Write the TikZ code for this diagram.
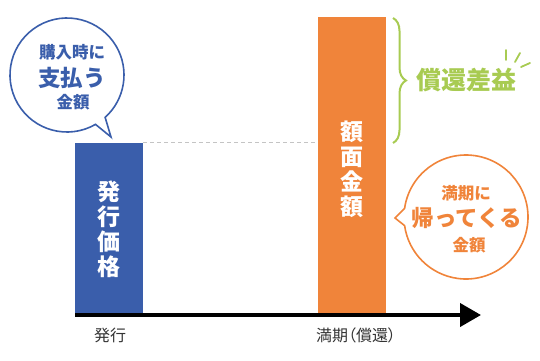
\documentclass[tikz,border=0pt]{standalone}
\usepackage{fontspec}
\newfontfamily\jp{Noto Sans CJK JP}
\newfontfamily\jpp[RawFeature=+palt]{Noto Sans CJK JP}
\usetikzlibrary{arrows.meta,decorations.pathreplacing,calc}
\definecolor{blueC}{HTML}{3A5EAB}
\definecolor{orangeC}{HTML}{F0843A}
\definecolor{greenC}{HTML}{A8CB52}
\definecolor{dashC}{HTML}{C4C4C4}
\definecolor{txtC}{HTML}{333333}
\begin{document}
\begin{tikzpicture}[x=1pt,y=-1pt,
  bar/.style={draw=none,minimum width=68pt,inner sep=0pt,anchor=south west},
  bartext/.style={text=white,font=\jp\bfseries\fontsize{23}{25}\selectfont,align=center,inner sep=0pt},
  axlabel/.style={text=txtC,font=\jpp\fontsize{16}{18}\selectfont,inner sep=0pt},
  bubline/.style={line width=1.6pt,fill=white},
  small/.style={font=\jp\bfseries\fontsize{16.5}{18}\selectfont,inner sep=0pt},
  big/.style={font=\jp\bfseries\fontsize{22.5}{24}\selectfont,inner sep=0pt}]
\useasboundingbox (0,0) rectangle (540,360);
% bars
\node[bar,fill=blueC,minimum height=170pt] (bluebar) at (75,313) {};
\node[bar,fill=orangeC,minimum height=296pt] (orangebar) at (318,313) {};
\node[bartext] (bluetext) at (109,229) {発\\行\\価\\格};
\node[bartext] (orangetext) at (352,169) {額\\面\\金\\額};
% dashed level line
\draw[dashC,line width=1.2pt,dash pattern=on 4pt off 3pt] (bluebar.north east) -- (orangebar.west |- bluebar.north);
% axis
\coordinate (axS) at (75,315);
\coordinate (axE) at (481,315);
\draw[black,line width=4pt,-{Triangle[length=21pt,width=23pt]}] (axS) -- (axE);
\node[axlabel] (lab1) at (110,335) {発行};
\node[axlabel] (lab2) at (356,335) {満期（償還）};
% blue bubble
\coordinate (bc) at (67,75);
\draw[blueC,bubline] ($(bc)+(60:57)$) arc[start angle=60,end angle=408,radius=57] -- (111,137) -- cycle;
\node[small,text=blueC] (b1) at (72,52) {購入時に};
\node[big,text=blueC] (b2) at (72,78) {支払う};
\node[small,text=blueC] (b3) at (73,102) {金額};
% orange bubble
\coordinate (oc) at (466,217);
\draw[orangeC,bubline] ($(oc)+(188:62)$) arc[start angle=188,end angle=532,radius=62] -- (395,218) -- cycle;
\node[small,text=orangeC] (o1) at (466,193) {満期に};
\node[big,text=orangeC] (o2) at (467,218) {帰ってくる};
\node[small,text=orangeC] (o3) at (469,245) {金額};
% green brace
\coordinate (brT) at (393,18);
\coordinate (brB) at (393,143);
\draw[greenC,line width=2pt,decorate,decoration={brace,amplitude=13pt}] (brT) -- (brB);
\node[font=\jp\bfseries\fontsize{25}{27}\selectfont,text=greenC,inner sep=0pt] (gain) at (466,80) {償還差益};
\draw[greenC,line width=1.8pt,line cap=round] (506,50) -- (506,60);
\draw[greenC,line width=1.8pt,line cap=round] (520,53) -- (515,62);
\draw[greenC,line width=1.8pt,line cap=round] (530,63) -- (521,67);
\end{tikzpicture}
\end{document}
